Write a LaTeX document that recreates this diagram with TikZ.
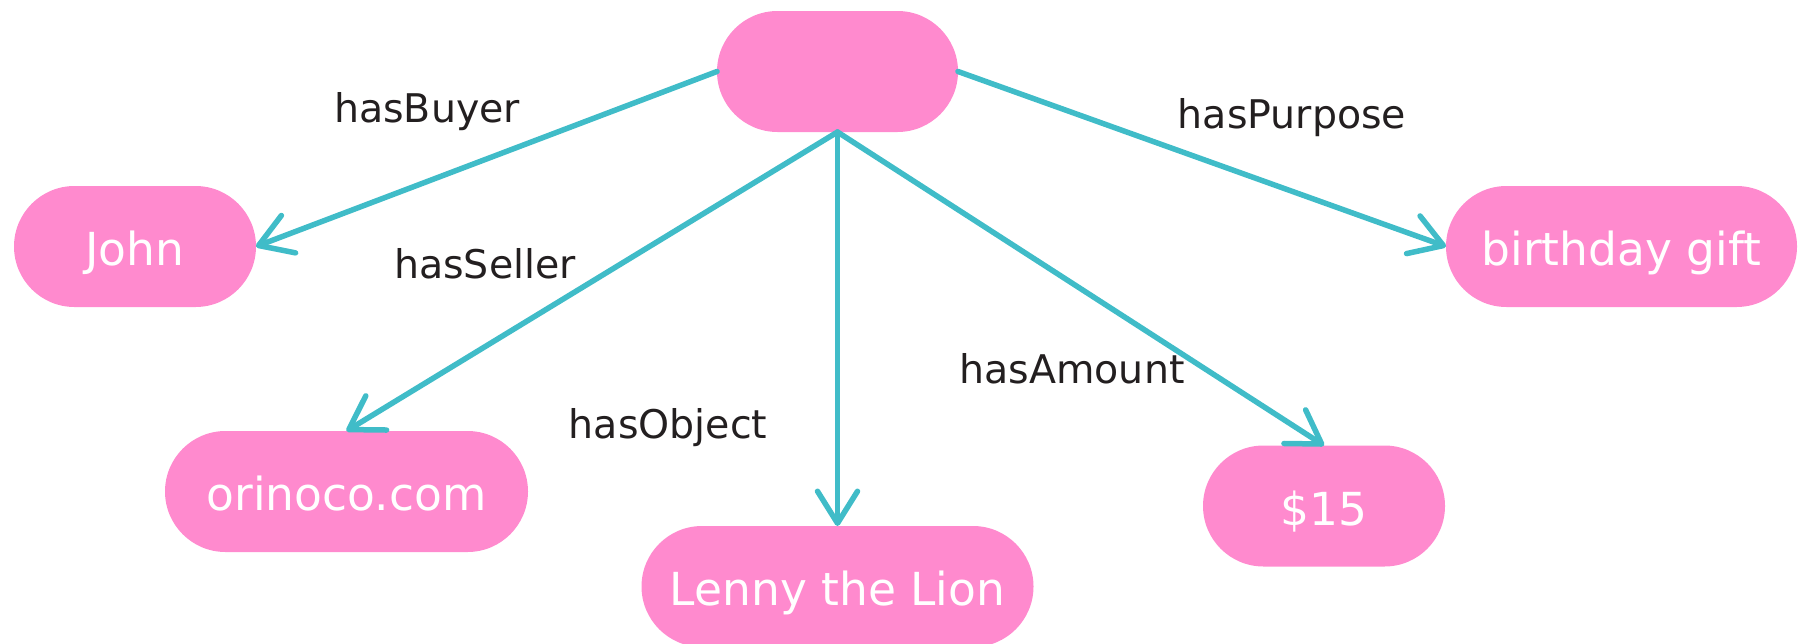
\documentclass[tikz,border=0pt]{standalone}
\usepackage{fontspec}
\setmainfont{DejaVu Sans}
\usetikzlibrary{arrows.meta}
\definecolor{pill}{HTML}{FF8ACE}
\definecolor{link}{HTML}{40BCC8}
\definecolor{ink}{HTML}{231F20}
\begin{document}
\begin{tikzpicture}[x=1pt,y=-1pt,
  pillnode/.style={fill=pill, draw=none, rounded corners=60.5pt,
    minimum height=121pt, inner sep=0pt, outer sep=0pt,
    text=white, font=\fontsize{45.5}{52}\selectfont,
    text height=38pt, text depth=0pt},
  rel/.style={draw=link, line width=5.5pt, line cap=round,
    -{Straight Barb[length=32pt,width=40pt,line cap=round,line join=round]}},
  lbl/.style={text=ink, font=\fontsize{39.5}{46}\selectfont, anchor=base, inner sep=0pt}]
  \useasboundingbox (0,0) rectangle (1798,643);

  % resources
  \node[pillnode, minimum width=241pt] (sale)    at (837.5,71.5) {};
  \node[pillnode, minimum width=242pt] (john)    at (135,246.5)  {John};
  \node[pillnode, minimum width=351pt] (gift)    at (1621.5,246.5) {birthday gift};
  \node[pillnode, minimum width=363pt] (orinoco) at (346.5,491.5) {orinoco.com};
  \node[pillnode, minimum width=392pt] (lenny)   at (837.5,586.5)  {Lenny the Lion};
  \node[pillnode, minimum width=242pt] (amount)  at (1324,506)   {\$15};

  % properties
  \draw[rel] (sale.west)  -- (john.east);
  \draw[rel] (sale.east)  -- (gift.west);
  \draw[rel] (sale.south) -- (orinoco.north);
  \draw[rel] (sale.south) -- (lenny.north);
  \draw[rel] (sale.south) -- (amount.north);

  % property names
  \node[lbl] (lbuyer)   at (427,122)  {hasBuyer};
  \node[lbl] (lseller)  at (485,278)  {hasSeller};
  \node[lbl] (lobject)  at (668,438)  {hasObject};
  \node[lbl] (lamount)  at (1072,383) {hasAmount};
  \node[lbl] (lpurpose) at (1292,128) {hasPurpose};
\end{tikzpicture}
\end{document}
